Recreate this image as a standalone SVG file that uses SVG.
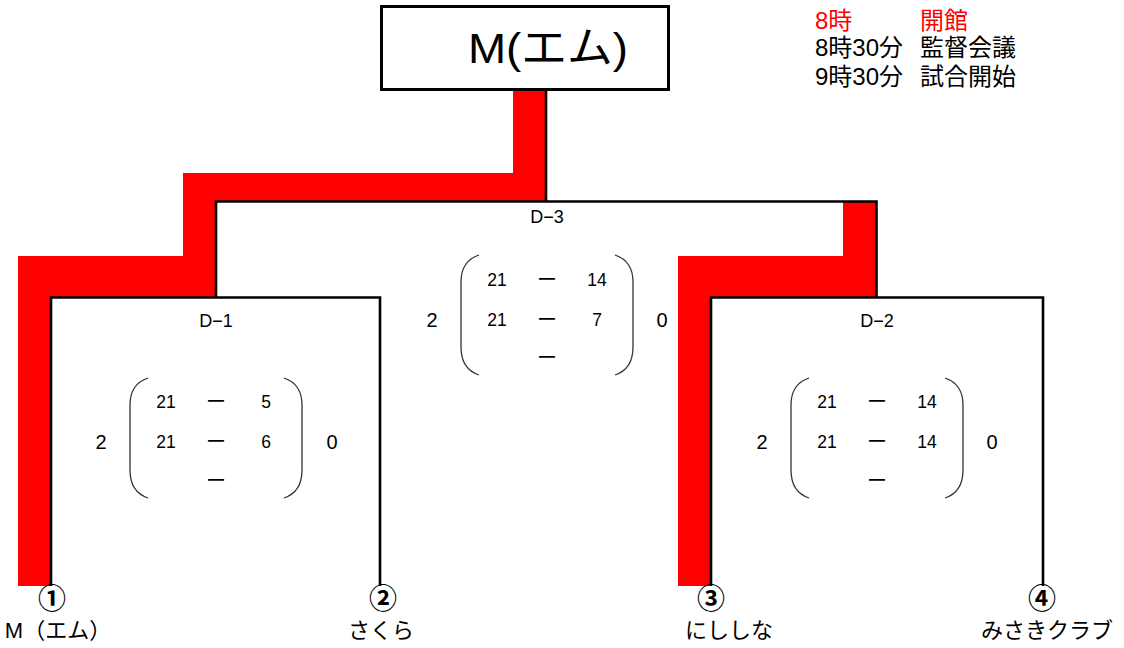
<svg xmlns="http://www.w3.org/2000/svg" width="1124" height="648" viewBox="0 0 1124 648">
<style>
text{font-family:"Liberation Sans","Noto Sans CJK JP",sans-serif;fill:#000}
.lbl{font-size:18px;text-anchor:middle}
.sc{font-size:17.5px;text-anchor:middle}
.big{font-size:20px;text-anchor:middle}
.dash{font-family:"Noto Sans CJK JP",sans-serif;font-size:20px;text-anchor:middle}
.par{fill:none;stroke:#333;stroke-width:1.3}
.br{fill:none;stroke:#000;stroke-width:2.6}
.win{fill:#ff0000;stroke:none}
.num{font-family:"Noto Sans CJK JP",sans-serif;font-size:28px;font-weight:bold;text-anchor:middle}
.name{font-size:22px;text-anchor:middle}
.sch{font-size:24px}
.red{fill:#ff0000}
</style>
<defs>
<g id="score">
<path class="par" d="M-68,0 C-80,4 -86,14 -86,27 L-86,92 C-86,106 -80,116 -68,120"/>
<path class="par" d="M68,0 C80,4 86,14 86,27 L86,92 C86,106 80,116 68,120"/>
</g>
</defs>
<g id="connectors">
<polygon class="win" points="513,90 545,90 545,201 215,201 215,297 50,297 50,586 18,586 18,256 183,256 183,173 513,173"/>
<polygon class="win" points="843,201 876,201 876,297 710,297 710,586 678,586 678,256 843,256"/>
<path class="br" d="M51,586 V297.5 H380 V586"/>
<path class="br" d="M711,586 V297.5 H1043 V586"/>
<path class="br" d="M216,298 V201.5 H876.5 V298"/>
<path class="br" d="M546,90 V201.5"/>
</g>
<g id="champion">
<rect x="381.5" y="6.5" width="287" height="83" fill="#fff" stroke="#000" stroke-width="3"/>
<text x="468" y="63" font-size="43" textLength="160" lengthAdjust="spacingAndGlyphs">M(エム)</text>
</g>
<g id="schedule">
<text class="sch red" x="815" y="29">8時</text>
<text class="sch red" x="920" y="29">開館</text>
<text class="sch" x="815" y="56">8時30分</text>
<text class="sch" x="920" y="56">監督会議</text>
<text class="sch" x="815" y="85">9時30分</text>
<text class="sch" x="920" y="85">試合開始</text>
</g>
<g id="D-3">
<text class="lbl" x="547" y="223">D−3</text>
<use href="#score" x="547" y="255"/>
<text class="big" x="432" y="327">2</text>
<text class="big" x="662" y="327">0</text>
<text class="sc" x="497" y="286">21</text>
<text class="dash" x="547" y="287">ー</text>
<text class="sc" x="597" y="286">14</text>
<text class="sc" x="497" y="326">21</text>
<text class="dash" x="547" y="327">ー</text>
<text class="sc" x="597" y="326">7</text>
<text class="dash" x="547" y="365">ー</text>
</g>
<g id="D-1">
<text class="lbl" x="216" y="327">D−1</text>
<use href="#score" x="216" y="378"/>
<text class="big" x="101" y="449">2</text>
<text class="big" x="332" y="449">0</text>
<text class="sc" x="166" y="408">21</text>
<text class="dash" x="216" y="409">ー</text>
<text class="sc" x="266" y="408">5</text>
<text class="sc" x="166" y="448">21</text>
<text class="dash" x="216" y="449">ー</text>
<text class="sc" x="266" y="448">6</text>
<text class="dash" x="216" y="488">ー</text>
</g>
<g id="D-2">
<text class="lbl" x="877" y="327">D−2</text>
<use href="#score" x="877" y="378"/>
<text class="big" x="762" y="449">2</text>
<text class="big" x="992" y="449">0</text>
<text class="sc" x="827" y="408">21</text>
<text class="dash" x="877" y="409">ー</text>
<text class="sc" x="927" y="408">14</text>
<text class="sc" x="827" y="448">21</text>
<text class="dash" x="877" y="449">ー</text>
<text class="sc" x="927" y="448">14</text>
<text class="dash" x="877" y="488">ー</text>
</g>
<g id="team1">
<text class="num" x="52" y="609">①</text>
<text class="name" x="58" y="638">M（エム）</text>
</g>
<g id="team2">
<text class="num" x="383" y="609">②</text>
<text class="name" x="381" y="638">さくら</text>
</g>
<g id="team3">
<text class="num" x="711" y="609">③</text>
<text class="name" x="729" y="638">にししな</text>
</g>
<g id="team4">
<text class="num" x="1042" y="609">④</text>
<text class="name" x="1047" y="638">みさきクラブ</text>
</g>
</svg>
